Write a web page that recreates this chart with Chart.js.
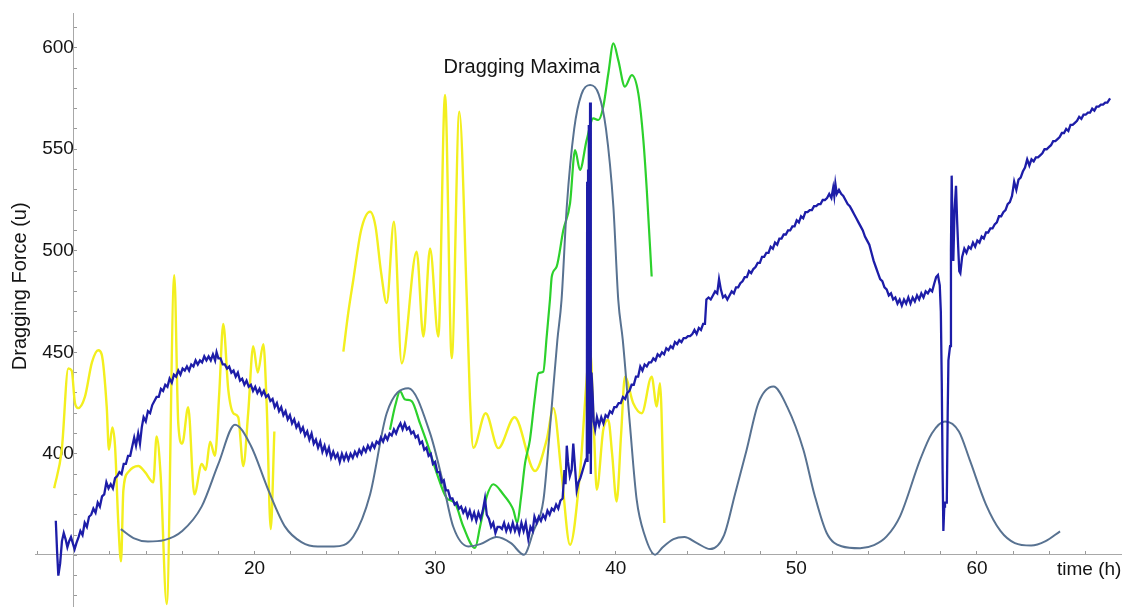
<!DOCTYPE html>
<html><head><meta charset="utf-8">
<script src="https://cdn.jsdelivr.net/npm/chart.js@4.4.1/dist/chart.umd.min.js"></script>
<style>html,body{margin:0;padding:0;background:#fff;overflow:hidden}#wrap{width:1122px;height:607px;position:relative}</style>
</head><body><div id="wrap"><canvas id="c"></canvas></div>
<script>
// ---- data: [time (h), force (u)] ----
const bluePoints = [[9.00,367],[9.07,352],[9.14,340],[9.24,346],[9.34,357],[9.44,361],[9.54,358],[9.64,354],[9.74,357],[9.84,359],[9.94,356],[10.04,353],[10.14,356],[10.26,359],[10.36,362],[10.48,360],[10.6,366],[10.72,364],[10.84,369],[10.96,370],[11.08,373],[11.2,371],[11.32,376],[11.44,374],[11.56,379],[11.68,380],[11.8,386],[11.92,383],[12.04,385],[12.16,383],[12.28,388],[12.4,389],[12.52,391],[12.64,390],[12.76,395],[12.88,395],[13.0,399],[13.12,399],[13.24,404],[13.34,408],[13.44,404],[13.56,410],[13.66,405],[13.76,413],[13.86,418],[13.98,416],[14.1,421],[14.22,420],[14.34,424],[14.46,426],[14.58,428],[14.7,428],[14.82,432],[14.94,431],[15.06,434],[15.18,433],[15.3,437],[15.42,435],[15.54,439],[15.66,438],[15.78,441],[15.9,439],[16.02,442],[16.14,441],[16.26,443],[16.38,441],[16.5,444],[16.62,443],[16.74,446],[16.86,444],[16.98,446],[17.1,445],[17.22,448],[17.34,446],[17.46,448],[17.58,446],[17.7,449],[17.82,446],[17.9,450],[18.0,447],[18.12,447],[18.24,444],[18.36,444],[18.48,442],[18.6,443],[18.72,440],[18.84,441],[18.96,438],[19.08,440],[19.2,436],[19.32,437],[19.44,434],[19.56,436],[19.68,433],[19.8,434],[19.92,431],[20.04,433],[20.16,430],[20.28,432],[20.4,429],[20.52,431],[20.64,428],[20.76,429],[20.88,426],[21.0,427],[21.12,423],[21.24,425],[21.36,421],[21.48,423],[21.6,419],[21.72,421],[21.84,417],[21.96,419],[22.08,415],[22.2,417],[22.32,413],[22.44,415],[22.56,411],[22.68,413],[22.8,409],[22.92,411],[23.04,407],[23.16,410],[23.28,405],[23.4,407],[23.52,403],[23.64,406],[23.76,401],[23.88,404],[24.0,400],[24.12,403],[24.24,398],[24.36,401],[24.48,398],[24.6,400],[24.72,396],[24.84,400],[24.96,397],[25.08,400],[25.2,397],[25.32,400],[25.44,398],[25.56,401],[25.68,399],[25.8,402],[25.92,400],[26.04,403],[26.16,401],[26.28,404],[26.4,402],[26.52,405],[26.64,403],[26.76,406],[26.88,405],[27.0,408],[27.12,406],[27.24,409],[27.36,407],[27.48,410],[27.6,409],[27.72,412],[27.84,410],[27.96,413],[28.08,415],[28.2,412],[28.32,415],[28.44,412],[28.56,413],[28.68,410],[28.8,411],[28.92,408],[29.04,409],[29.16,405],[29.28,406],[29.4,402],[29.52,403],[29.64,399],[29.76,400],[29.88,395],[30.0,396],[30.12,391],[30.24,391],[30.36,386],[30.48,387],[30.6,382],[30.72,382],[30.84,378],[30.96,378],[31.08,375],[31.2,376],[31.32,373],[31.44,374],[31.56,371],[31.68,373],[31.8,369],[31.92,372],[32.04,368],[32.16,371],[32.28,367],[32.4,371],[32.52,368],[32.64,372],[32.76,378],[32.86,370],[32.98,368],[33.1,364],[33.22,366],[33.34,361],[33.46,364],[33.58,364],[33.7,363],[33.82,366],[33.94,362],[34.06,365],[34.18,362],[34.3,366],[34.42,362],[34.54,365],[34.66,361],[34.78,366],[34.9,362],[35.02,366],[35.16,358],[35.28,364],[35.4,362],[35.5,369],[35.62,366],[35.74,369],[35.86,367],[35.98,370],[36.1,368],[36.22,372],[36.34,370],[36.46,373],[36.58,372],[36.7,375],[36.82,373],[36.94,377],[37.06,378],[37.16,392],[37.22,385],[37.29,404],[37.36,396],[37.46,389],[37.56,392],[37.65,405],[37.74,394],[37.84,382],[37.94,386],[38.04,388],[38.14,391],[38.24,394],[38.34,397],[38.40,398],[38.42,534],[38.44,396],[38.47,540],[38.50,400],[38.52,562],[38.54,405],[38.58,573],[38.62,390],[38.66,440],[38.72,430],[38.78,416],[38.86,412],[38.96,418],[39.08,414],[39.2,418],[39.32,415],[39.44,419],[39.56,418],[39.68,421],[39.8,420],[39.92,423],[40.04,423],[40.16,425],[40.28,425],[40.4,428],[40.52,427],[40.64,430],[40.76,431],[40.88,434],[41.0,434],[41.12,438],[41.24,438],[41.36,443],[41.48,441],[41.6,444],[41.72,443],[41.84,445],[41.96,445],[42.08,447],[42.2,446],[42.32,449],[42.44,448],[42.56,450],[42.68,449],[42.8,452],[42.92,451],[43.04,453],[43.16,452],[43.28,455],[43.4,454],[43.52,456],[43.64,455],[43.76,457],[43.88,457],[44.0,458],[44.12,458],[44.24,459],[44.36,461],[44.48,459],[44.6,462],[44.72,461],[44.84,464],[44.94,464],[45.02,476],[45.14,477],[45.26,476],[45.38,478],[45.5,480],[45.62,479],[45.72,486],[45.82,481],[45.94,477],[46.06,478],[46.18,476],[46.3,478],[46.42,480],[46.54,479],[46.66,482],[46.78,482],[46.9,484],[47.02,485],[47.14,487],[47.26,487],[47.38,490],[47.5,489],[47.62,491],[47.74,492],[47.86,494],[47.98,494],[48.1,497],[48.22,497],[48.34,499],[48.46,499],[48.58,502],[48.7,501],[48.82,504],[48.94,503],[49.06,506],[49.18,506],[49.3,508],[49.42,508],[49.54,510],[49.66,510],[49.78,512],[49.9,512],[50.02,515],[50.14,514],[50.26,517],[50.38,516],[50.5,519],[50.62,519],[50.74,520],[50.86,520],[50.98,522],[51.1,522],[51.22,523],[51.34,523],[51.46,525],[51.58,525],[51.7,526],[51.82,528],[51.94,526],[52.04,531],[52.1,527],[52.16,533],[52.24,528],[52.36,530],[52.48,528],[52.6,527],[52.72,525],[52.84,523],[52.96,522],[53.08,520],[53.2,518],[53.32,516],[53.44,514],[53.56,512],[53.68,510],[53.8,507],[53.92,505],[54.04,503],[54.16,499],[54.28,495],[54.4,492],[54.52,489],[54.64,486],[54.76,485],[54.88,482],[55.0,481],[55.12,478],[55.24,479],[55.36,476],[55.48,477],[55.6,474],[55.72,476],[55.84,473],[55.96,476],[56.08,474],[56.2,477],[56.32,474],[56.44,477],[56.56,475],[56.68,478],[56.8,476],[56.92,479],[57.04,477],[57.16,480],[57.28,479],[57.4,481],[57.52,480],[57.64,484],[57.74,487],[57.84,488],[57.94,483],[58.00,470],[58.05,436],[58.10,390],[58.14,362],[58.19,374],[58.23,376],[58.33,376],[58.38,420],[58.42,446],[58.51,453],[58.56,500],[58.60,537],[58.65,510],[58.69,495],[58.76,520],[58.84,532],[58.90,515],[58.96,502],[59.02,490],[59.08,489],[59.18,497],[59.3,501],[59.42,499],[59.54,502],[59.66,501],[59.78,504],[59.9,502],[60.02,505],[60.14,504],[60.26,507],[60.38,506],[60.5,509],[60.62,509],[60.74,511],[60.86,511],[60.98,513],[61.1,514],[61.22,517],[61.34,517],[61.46,519],[61.58,520],[61.7,523],[61.82,524],[61.94,527],[62.06,534],[62.18,530],[62.3,535],[62.42,536],[62.54,539],[62.66,541],[62.78,545],[62.9,542],[63.02,545],[63.14,544],[63.26,546],[63.38,546],[63.5,547],[63.62,548],[63.74,550],[63.86,550],[63.98,551],[64.1,552],[64.22,554],[64.34,554],[64.46,555],[64.58,556],[64.7,558],[64.82,558],[64.94,560],[65.06,559],[65.18,562],[65.3,562],[65.42,563],[65.54,564],[65.66,566],[65.78,565],[65.9,567],[66.02,567],[66.14,568],[66.26,568],[66.38,570],[66.5,569],[66.62,571],[66.74,571],[66.86,572],[66.98,572],[67.1,573],[67.22,573],[67.37,575]];

const greyPoints = [[12.6,362.9],[13.3,358.5],[14.1,356.8],[15.0,357.5],[16.0,362],[17.08,374.1],[18.0,395],[18.92,414.3],[19.8,404],[20.76,382.3],[21.7,364],[22.6,356.5],[23.5,354.3],[24.4,354.3],[25.47,359.3],[26.4,380],[27.32,420],[28.52,432.3],[29.72,410.2],[30.4,387.2],[31.0,364.2],[31.84,354.4],[32.5,355.5],[33.41,359],[34.2,356],[34.92,350.3],[35.45,362],[36.0,377.4],[36.38,415],[36.77,456.1],[37.0,475.8],[37.29,521.7],[37.7,560],[38.1,577],[38.58,581.6],[39.06,577],[39.46,560],[39.87,521.7],[40.14,475.8],[40.39,456.1],[40.78,415],[41.16,377.4],[41.6,360],[42.18,350.3],[42.6,354],[43.2,358],[43.8,359],[44.5,356],[45.22,353.1],[46.0,360],[46.6,380],[47.25,402],[47.9,425],[48.73,433.1],[49.5,423],[50.39,402],[51.0,380],[51.68,361],[52.5,354.5],[53.53,353.5],[54.3,355],[55.0,359.3],[55.74,369.2],[56.85,397],[57.5,410],[58.23,415.9],[59.0,411],[59.6,397],[60.5,375],[61.3,362],[62.1,356],[63.0,354.8],[63.8,357],[64.6,361.8]];

const greenPoints = [[27.5,411.8],[27.8,424],[28.06,430.7],[28.3,427],[28.43,426.6],[28.7,426],[29.16,415.1],[29.62,403.6],[30.09,390.5],[30.64,378.2],[31.1,375.7],[31.56,364.2],[32.21,353.6],[32.49,364.2],[32.86,379],[33.22,385],[33.78,380],[34.15,375.5],[34.33,372.4],[34.55,366],[34.75,378],[34.98,395.4],[35.25,406.9],[35.53,428.2],[35.72,439.7],[35.99,440.5],[36.18,458],[36.36,476],[36.46,487.3],[36.73,492.2],[37.1,510.2],[37.47,523.4],[37.75,549.6],[38.02,539.8],[38.39,554.5],[38.76,565.2],[39.04,564.4],[39.31,570.9],[39.59,587.3],[39.87,602.1],[40.14,593.9],[40.51,580.8],[40.89,586.5],[41.25,577.5],[41.53,554.5],[41.72,529.9],[41.99,487.3]];

const yellowEarlyPoints = [[8.91,383],[9.33,402],[9.69,442],[9.88,441],[10.06,425],[10.24,422.5],[10.61,428],[11.0,445],[11.35,451],[11.54,449],[11.82,423],[11.94,402],[12.13,413],[12.28,403.6],[12.46,366],[12.61,347],[12.74,382],[13.01,391],[13.57,394],[13.94,391],[14.4,386],[14.58,408.5],[14.8,390],[15.14,326],[15.56,488],[15.78,415],[16.0,405],[16.33,423],[16.67,380],[17.08,395],[17.3,392],[17.54,406],[17.81,399],[18.05,430],[18.27,464],[18.55,431.5],[18.83,420],[19.1,418],[19.38,394],[19.65,420],[19.93,453],[20.18,440],[20.49,454],[20.68,423],[20.9,363],[21.1,411]];

const yellowLatePoints = [[24.92,450.3],[25.2,470],[25.47,485.6],[25.9,510],[26.4,519.2],[26.7,512],[27.0,490],[27.32,474.2],[27.72,514.3],[28.15,444.6],[28.98,499.6],[29.35,457.7],[29.72,501.2],[30.18,457.7],[30.55,576.7],[30.92,447.1],[31.34,568.5],[31.75,477.4],[31.93,427],[32.12,403],[32.8,420],[33.5,402.8],[34.4,418],[35.53,391.5],[36.18,407],[36.55,422.5],[37.0,390],[37.47,355.2],[38.02,390.5],[38.48,446.3],[38.58,451.2],[38.8,410],[38.95,382.3],[39.31,411.8],[39.59,416.7],[39.8,400],[40.05,376.5],[40.3,410],[40.51,438],[40.97,424.9],[41.44,420],[41.99,438],[42.27,423.3],[42.45,434.8],[42.69,365.9]];

const xTickLabels = [20, 30, 40, 50, 60];
const yTickLabels = [400, 450, 500, 550, 600];
const chartTitle = 'Dragging Maxima';
const xAxisTitle = 'time (h)';
const yAxisTitle = 'Dragging Force (u)';

// ---- chart ----
const FONT = '"Liberation Sans", Arial, Helvetica, sans-serif';
const pts = arr => arr.map(p => ({x: p[0], y: p[1]}));

const textPlugin = {
  id: 'texts',
  afterDraw(chart) {
    const ctx = chart.ctx;
    const xs = chart.scales.x, ys = chart.scales.y;
    ctx.save();
    ctx.fillStyle = '#141414';
    ctx.font = '20px ' + FONT;
    ctx.textAlign = 'center';
    ctx.textBaseline = 'alphabetic';
    ctx.fillText(chartTitle, xs.getPixelForValue(34.8), ys.getPixelForValue(587.7));
    ctx.font = '19px ' + FONT;
    ctx.textAlign = 'left';
    ctx.fillText(xAxisTitle, xs.getPixelForValue(64.43), ys.getPixelForValue(340.3));
    ctx.translate(26, ys.getPixelForValue(482.5));
    ctx.rotate(-Math.PI / 2);
    ctx.font = '20px ' + FONT;
    ctx.textAlign = 'center';
    ctx.fillText(yAxisTitle, 0, 0);
    ctx.restore();
  }
};

const lineDs = (data, color, width, smooth) => ({
  data: data, borderColor: color, borderWidth: width, pointRadius: 0,
  fill: false, tension: 0, cubicInterpolationMode: smooth ? 'monotone' : 'default'
});

new Chart(document.getElementById('c'), {
  type: 'line',
  data: {
    datasets: [
      lineDs(pts(bluePoints), '#1d1da8', 2.3, false),
      lineDs(pts(greyPoints), '#587291', 2, true),
      lineDs(pts(greenPoints), '#2cd12c', 2.2, true),
      lineDs(pts(yellowEarlyPoints), '#f3ef1e', 2.4, true),
      lineDs(pts(yellowLatePoints), '#f3ef1e', 2.4, true)
    ]
  },
  options: {
    responsive: true, maintainAspectRatio: false, animation: false,
    layout: {padding: {left: 35, top: 13, right: 0, bottom: 0}},
    plugins: {legend: {display: false}, tooltip: {enabled: false}},
    scales: {
      x: {
        type: 'linear', min: 7.848, max: 68.03,
        position: {y: 350.2},
        afterBuildTicks: s => { s.ticks = s.ticks.filter(t => t.value <= 66); },
        border: {display: true, color: '#a8a8a8', width: 1},
        grid: {drawOnChartArea: false, drawTicks: true, tickLength: -4, color: '#9a9a9a'},
        ticks: {
          stepSize: 2, includeBounds: false, autoSkip: false, maxRotation: 0, padding: 6,
          color: '#141414',
          font: c => (xTickLabels.includes(c.tick && c.tick.value) ? {family: FONT, size: 19} : {family: FONT, size: 0.5}),
          callback: v => (xTickLabels.includes(v) ? String(v) : '')
        }
      },
      y: {
        type: 'linear', min: 324.7, max: 617.1,
        position: {x: 10},
        border: {display: true, color: '#a8a8a8', width: 1},
        grid: {drawOnChartArea: false, drawTicks: true, tickLength: -4, color: '#9a9a9a'},
        ticks: {
          stepSize: 10, includeBounds: false, autoSkip: false, padding: 0,
          color: '#141414',
          font: c => (yTickLabels.includes(c.tick && c.tick.value) ? {family: FONT, size: 19} : {family: FONT, size: 0.5}),
          callback: v => (yTickLabels.includes(v) ? String(v) : '')
        }
      }
    }
  },
  plugins: [textPlugin]
});
</script>
</body></html>
